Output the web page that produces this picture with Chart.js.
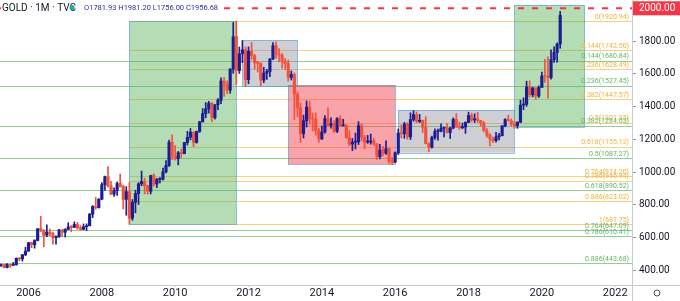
<!DOCTYPE html>
<html>
<head>
<meta charset="utf-8">
<script src="https://cdn.jsdelivr.net/npm/chart.js@4.4.0/dist/chart.umd.min.js"></script>
<style>
  html, body { margin: 0; padding: 0; background: #fff; }
  canvas { display: block; }
</style>
</head>
<body>
<canvas id="goldChart" width="680" height="301"></canvas>
<script>
// monthly gold candles, first one is April 2005
const firstMonth = '2005-04';
const opens = [
  428, 435, 417, 436, 430, 433, 473, 470, 495,
  517, 569, 556, 582, 654, 643, 614, 633, 623, 599, 604, 646,
  632, 650, 665, 662, 680, 659, 650, 666, 672, 743, 789, 783,
  834, 923, 972, 916, 865, 886, 930, 912, 833, 880, 718, 815,
  869, 928, 942, 916, 883, 979, 927, 955, 956, 1001, 1040, 1182,
  1096, 1081, 1118, 1113, 1180, 1212, 1244, 1181, 1248, 1307, 1357, 1386,
  1421, 1332, 1411, 1439, 1556, 1536, 1500, 1628, 1826, 1620, 1722, 1746,
  1564, 1737, 1711, 1669, 1664, 1561, 1604, 1614, 1691, 1772, 1719, 1713,
  1675, 1663, 1578, 1596, 1476, 1393, 1234, 1313, 1396, 1326, 1323, 1253,
  1202, 1244, 1326, 1284, 1296, 1250, 1327, 1282, 1287, 1211, 1171, 1182,
  1184, 1283, 1212, 1183, 1184, 1190, 1172, 1095, 1134, 1115, 1142, 1065,
  1061, 1118, 1238, 1234, 1293, 1215, 1321, 1351, 1309, 1316, 1273, 1173,
  1152, 1211, 1248, 1249, 1268, 1269, 1242, 1269, 1322, 1280, 1271, 1275,
  1303, 1345, 1318, 1325, 1315, 1299, 1253, 1224, 1201, 1192, 1215, 1222,
  1282, 1321, 1313, 1292, 1284, 1305, 1409, 1413, 1520, 1472, 1513, 1464,
  1517, 1587, 1585, 1577, 1686, 1730, 1781.93
];
const highs = [
  438, 436, 441, 437, 448, 476, 477, 497, 541,
  570, 573, 587, 655, 730, 649, 677, 652, 633, 610, 650, 648,
  654, 691, 674, 696, 692, 673, 683, 684, 747, 795, 845, 838,
  935, 976, 1033, 943, 903, 940, 988, 920, 911, 936, 832, 889,
  935, 1006, 962, 920, 981, 989, 962, 966, 1024, 1070, 1195, 1227,
  1162, 1126, 1140, 1181, 1249, 1266, 1245, 1250, 1310, 1388, 1424, 1432,
  1424, 1412, 1448, 1576, 1577, 1557, 1632, 1913, 1920.94, 1764, 1803, 1764,
  1764, 1791, 1719, 1677, 1667, 1640, 1628, 1692, 1790, 1796, 1754, 1723,
  1694, 1684, 1617, 1606, 1488, 1423, 1348, 1434, 1434, 1361, 1362, 1267,
  1280, 1345, 1392, 1331, 1315, 1332, 1345, 1322, 1288, 1255, 1205, 1238,
  1308, 1294, 1224, 1224, 1232, 1205, 1175, 1170, 1157, 1191, 1146, 1088,
  1123, 1263, 1287, 1304, 1303, 1362, 1375, 1367, 1352, 1318, 1338, 1180,
  1220, 1264, 1262, 1295, 1270, 1296, 1274, 1331, 1357, 1306, 1299, 1307,
  1366, 1361, 1356, 1365, 1316, 1309, 1265, 1235, 1214, 1243, 1237, 1284,
  1326, 1347, 1324, 1310, 1306, 1439, 1453, 1555, 1557, 1518, 1516, 1526,
  1611, 1689, 1704, 1747, 1765, 1789, 1981.20
];
const lows = [
  423, 414, 414, 418, 430, 432, 458, 456, 489,
  516, 538, 535, 580, 636, 543, 605, 610, 560, 560, 603, 608,
  603, 647, 636, 662, 651, 642, 648, 642, 671, 722, 773, 780,
  831, 888, 908, 862, 851, 857, 907, 774, 736, 681.75, 705, 751,
  802, 916, 866, 865, 866, 913, 904, 934, 950, 994, 1034, 1075,
  1073, 1044, 1088, 1111, 1165, 1196, 1155, 1176, 1242, 1305, 1331, 1360,
  1308, 1323, 1381, 1418, 1462, 1478, 1481, 1603, 1535, 1602, 1668, 1523,
  1539, 1688, 1628, 1611, 1527, 1546, 1565, 1583, 1686, 1694, 1672, 1635,
  1626, 1555, 1562, 1321, 1338, 1180, 1208, 1275, 1291, 1251, 1226, 1181,
  1200, 1238, 1277, 1268, 1240, 1240, 1280, 1281, 1206, 1161, 1131, 1141,
  1168, 1191, 1142, 1175, 1170, 1162, 1077, 1080, 1098, 1107, 1052, 1046,
  1058, 1107, 1208, 1206, 1200, 1199, 1310, 1301, 1302, 1241, 1172, 1123,
  1146, 1200, 1195, 1245, 1214, 1237, 1205, 1264, 1271, 1260, 1264, 1236,
  1302, 1307, 1303, 1302, 1282, 1245, 1211, 1160, 1180, 1183, 1196, 1221,
  1276, 1311, 1281, 1266, 1267, 1301, 1381, 1401, 1459, 1459, 1445, 1455,
  1517, 1548, 1451, 1567, 1670, 1671, 1756.00
];
const closes = [
  435, 417, 436, 430, 433, 473, 470, 495, 517,
  569, 556, 582, 654, 643, 614, 633, 623, 599, 604, 646, 632,
  650, 665, 662, 680, 659, 650, 666, 672, 743, 789, 783, 834,
  923, 972, 916, 865, 886, 930, 912, 833, 880, 718, 815, 869,
  928, 942, 916, 883, 979, 927, 955, 956, 1001, 1040, 1182, 1096,
  1081, 1118, 1113, 1180, 1212, 1244, 1181, 1248, 1307, 1357, 1386, 1421,
  1332, 1411, 1439, 1556, 1536, 1500, 1628, 1826, 1620, 1722, 1746, 1564,
  1737, 1711, 1669, 1664, 1561, 1604, 1614, 1691, 1772, 1719, 1713, 1675,
  1663, 1578, 1596, 1476, 1393, 1234, 1313, 1396, 1326, 1323, 1253, 1202,
  1244, 1326, 1284, 1296, 1250, 1327, 1282, 1287, 1211, 1171, 1182, 1184,
  1283, 1212, 1183, 1184, 1190, 1172, 1095, 1134, 1115, 1142, 1065, 1061,
  1118, 1238, 1234, 1293, 1215, 1321, 1351, 1309, 1316, 1273, 1173, 1152,
  1211, 1248, 1249, 1268, 1269, 1242, 1269, 1322, 1280, 1271, 1275, 1303,
  1345, 1318, 1325, 1315, 1299, 1253, 1224, 1201, 1192, 1215, 1222, 1282,
  1321, 1313, 1292, 1284, 1305, 1409, 1413, 1520, 1472, 1513, 1464, 1517,
  1587, 1585, 1577, 1686, 1730, 1781, 1956.68
];

// axis ticks
const xTickYears = [2006, 2008, 2010, 2012, 2014, 2016, 2018, 2020, 2022];
const yTickValues = [400, 600, 800, 1000, 1200, 1400, 1600, 1800, 2000];

// fib retracement drawn on the 2008-2011 swing (orange)
const orangeFibFrom = '2008-10';
const orangeFibLevels = ['0', '0.144', '0.236', '0.382', '0.5', '0.618', '0.764', '0.786', '0.886', '1'];
const orangeFibPrices = [1920.94, 1742.50, 1628.49, 1447.57, 1301.35, 1155.12, 974.20, 946.94, 823.02, 681.75];
// long term fib (green)
const greenFibLevels = ['0.144', '0.236', '0.382', '0.5', '0.618', '0.764', '0.786', '0.886'];
const greenFibPrices = [1680.84, 1527.45, 1284.03, 1087.27, 890.52, 647.09, 610.41, 443.68];

// rectangles
const boxKinds = ['up', 'range', 'down', 'range', 'up'];
const boxFrom = ['2008-10', '2011-11', '2013-02', '2016-02', '2019-04'];
const boxTo = ['2011-09', '2013-05', '2016-01', '2019-04', '2021-03'];
const boxLow = [681.75, 1525, 1046, 1118, 1277];
const boxHigh = [1920.94, 1805, 1531, 1379, 2020];

const alertLevel = 2000;

function monthIndex(s) {
  const [yr, mo] = s.split('-').map(Number);
  return (yr - 2006) * 12 + (mo - 1);
}

const start = monthIndex(firstMonth);
const UP = '#1c1c93';
const DOWN = '#f2523c';
const colors = closes.map((c, i) => c >= opens[i] ? UP : DOWN);
const wickData = highs.map((h, i) => ({ x: start + i, y: [lows[i], h] }));
const bodyData = closes.map((c, i) => ({ x: start + i, y: [opens[i], c] }));

const boxStyle = {
  up: 'rgba(76, 175, 80, 0.42)',
  range: 'rgba(120, 123, 138, 0.36)',
  down: 'rgba(242, 54, 69, 0.45)'
};

const drawings = {
  id: 'drawings',
  beforeDatasetsDraw(chart) {
    const { ctx, chartArea: a, scales: { x, y } } = chart;
    ctx.save();
    ctx.beginPath();
    ctx.rect(a.left, a.top, a.right - a.left, a.bottom - a.top);
    ctx.clip();
    ctx.lineWidth = 1;

    greenFibPrices.forEach(p => {
      const py = Math.round(y.getPixelForValue(p)) + 0.5;
      ctx.strokeStyle = '#93cf95';
      ctx.beginPath();
      ctx.moveTo(a.left, py);
      ctx.lineTo(a.right, py);
      ctx.stroke();
    });
    const fx = x.getPixelForValue(monthIndex(orangeFibFrom));
    orangeFibPrices.forEach(p => {
      const py = Math.round(y.getPixelForValue(p)) + 0.5;
      ctx.strokeStyle = '#f9cf82';
      ctx.beginPath();
      ctx.moveTo(fx, py);
      ctx.lineTo(a.right, py);
      ctx.stroke();
    });

    boxKinds.forEach((k, i) => {
      const x0 = x.getPixelForValue(monthIndex(boxFrom[i]));
      const x1 = x.getPixelForValue(monthIndex(boxTo[i]));
      const y0 = y.getPixelForValue(boxHigh[i]);
      const y1 = y.getPixelForValue(boxLow[i]);
      ctx.fillStyle = boxStyle[k];
      ctx.fillRect(x0, y0, x1 - x0, y1 - y0);
      ctx.strokeStyle = 'rgba(70, 150, 210, 0.55)';
      ctx.strokeRect(Math.round(x0) + 0.5, Math.round(y0) + 0.5, Math.round(x1 - x0), Math.round(y1 - y0));
    });

    ctx.font = '7px Roboto';
    ctx.textAlign = 'right';
    ctx.textBaseline = 'bottom';
    orangeFibPrices.forEach((p, i) => {
      ctx.fillStyle = '#f2b13c';
      ctx.fillText(orangeFibLevels[i] + '(' + p.toFixed(2) + ')', a.right - 3, y.getPixelForValue(p) - 0.5);
    });
    greenFibPrices.forEach((p, i) => {
      ctx.fillStyle = '#5fb562';
      ctx.fillText(greenFibLevels[i] + '(' + p.toFixed(2) + ')', a.right - 3, y.getPixelForValue(p) - 0.5);
    });
    ctx.restore();
  },
  afterDraw(chart) {
    const { ctx, chartArea: a, scales: { y }, width, height } = chart;
    const ay = y.getPixelForValue(alertLevel);
    ctx.save();
    // alert line
    ctx.strokeStyle = '#f23645';
    ctx.lineWidth = 2;
    ctx.setLineDash([6, 8]);
    ctx.beginPath();
    ctx.moveTo(a.left, ay);
    ctx.lineTo(a.right, ay);
    ctx.stroke();
    ctx.setLineDash([]);

    // frame lines
    ctx.strokeStyle = '#c9cbd1';
    ctx.lineWidth = 1;
    ctx.beginPath();
    ctx.moveTo(Math.round(a.right) + 0.5, 0);
    ctx.lineTo(Math.round(a.right) + 0.5, height);
    ctx.moveTo(0, Math.round(a.bottom) + 0.5);
    ctx.lineTo(width, Math.round(a.bottom) + 0.5);
    ctx.stroke();

    // price tag
    ctx.fillStyle = '#f23645';
    ctx.fillRect(a.right + 1, ay - 7, width - a.right - 1, 14);
    ctx.fillStyle = '#ffffff';
    ctx.font = '10px Roboto';
    ctx.textAlign = 'left';
    ctx.textBaseline = 'middle';
    ctx.fillText(alertLevel.toFixed(2), a.right + 7, ay + 0.5);

    // legend header
    const last = closes.length - 1;
    ctx.textBaseline = 'middle';
    ctx.font = '10px Roboto';
    const title = 'GOLD · 1M · TVC';
    let tw = ctx.measureText(title).width;
    ctx.fillStyle = '#ffffff';
    ctx.fillRect(1, 1, tw + 2, 13);
    ctx.fillStyle = '#131722';
    ctx.fillText(title, 2, 8);

    ctx.fillStyle = '#22ab94';
    ctx.beginPath();
    ctx.arc(72, 7.5, 2.5, 0, Math.PI * 2);
    ctx.fill();

    ctx.font = '7.5px Roboto';
    const ohlc = 'O' + opens[last].toFixed(2) + ' H' + highs[last].toFixed(2) +
      ' L' + lows[last].toFixed(2) + ' C' + closes[last].toFixed(2);
    tw = ctx.measureText(ohlc).width;
    ctx.fillStyle = '#ffffff';
    ctx.fillRect(83, 2, tw + 2, 11);
    ctx.fillStyle = '#2b2d9a';
    ctx.fillText(ohlc, 84, 8);

    // settings gear
    ctx.strokeStyle = '#50535e';
    ctx.lineWidth = 1;
    ctx.beginPath();
    ctx.arc(657, 293, 3, 0, Math.PI * 2);
    ctx.stroke();
    ctx.restore();
  }
};

Chart.defaults.font.family = 'Roboto';

new Chart(document.getElementById('goldChart'), {
  type: 'bar',
  data: {
    datasets: [
      {
        data: bodyData,
        backgroundColor: colors,
        barThickness: 2.5,
        minBarLength: 1,
        grouped: false,
        order: 0
      },
      {
        data: wickData,
        backgroundColor: colors,
        barThickness: 1,
        grouped: false,
        order: 1
      }
    ]
  },
  plugins: [drawings],
  options: {
    responsive: false,
    animation: false,
    devicePixelRatio: 1,
    layout: { padding: 0 },
    plugins: {
      legend: { display: false },
      tooltip: { enabled: false }
    },
    scales: {
      x: {
        type: 'linear',
        offset: false,
        min: -9.33,
        max: 197.5,
        afterBuildTicks: s => { s.ticks = xTickYears.map(yr => ({ value: (yr - 2006) * 12 })); },
        afterFit: s => { s.height = 16; s.paddingLeft = 0; s.paddingRight = 0; },
        border: { display: false },
        grid: { offset: false, drawOnChartArea: false, tickLength: 2, color: '#c9cbd1' },
        ticks: {
          autoSkip: false,
          maxRotation: 0,
          padding: 0,
          color: '#131722',
          font: { size: 11 },
          callback: v => 2006 + v / 12
        }
      },
      y: {
        position: 'right',
        min: 310.2,
        max: 2050.7,
        afterBuildTicks: s => { s.ticks = yTickValues.map(v => ({ value: v })); },
        afterFit: s => { s.width = 48; s.paddingTop = 0; s.paddingBottom = 0; },
        border: { display: false },
        grid: { drawOnChartArea: false, tickLength: 4, color: '#9598a1' },
        ticks: {
          padding: 3,
          color: '#131722',
          font: { size: 10 },
          callback: v => v.toFixed(2)
        }
      }
    }
  }
});
</script>
</body>
</html>
